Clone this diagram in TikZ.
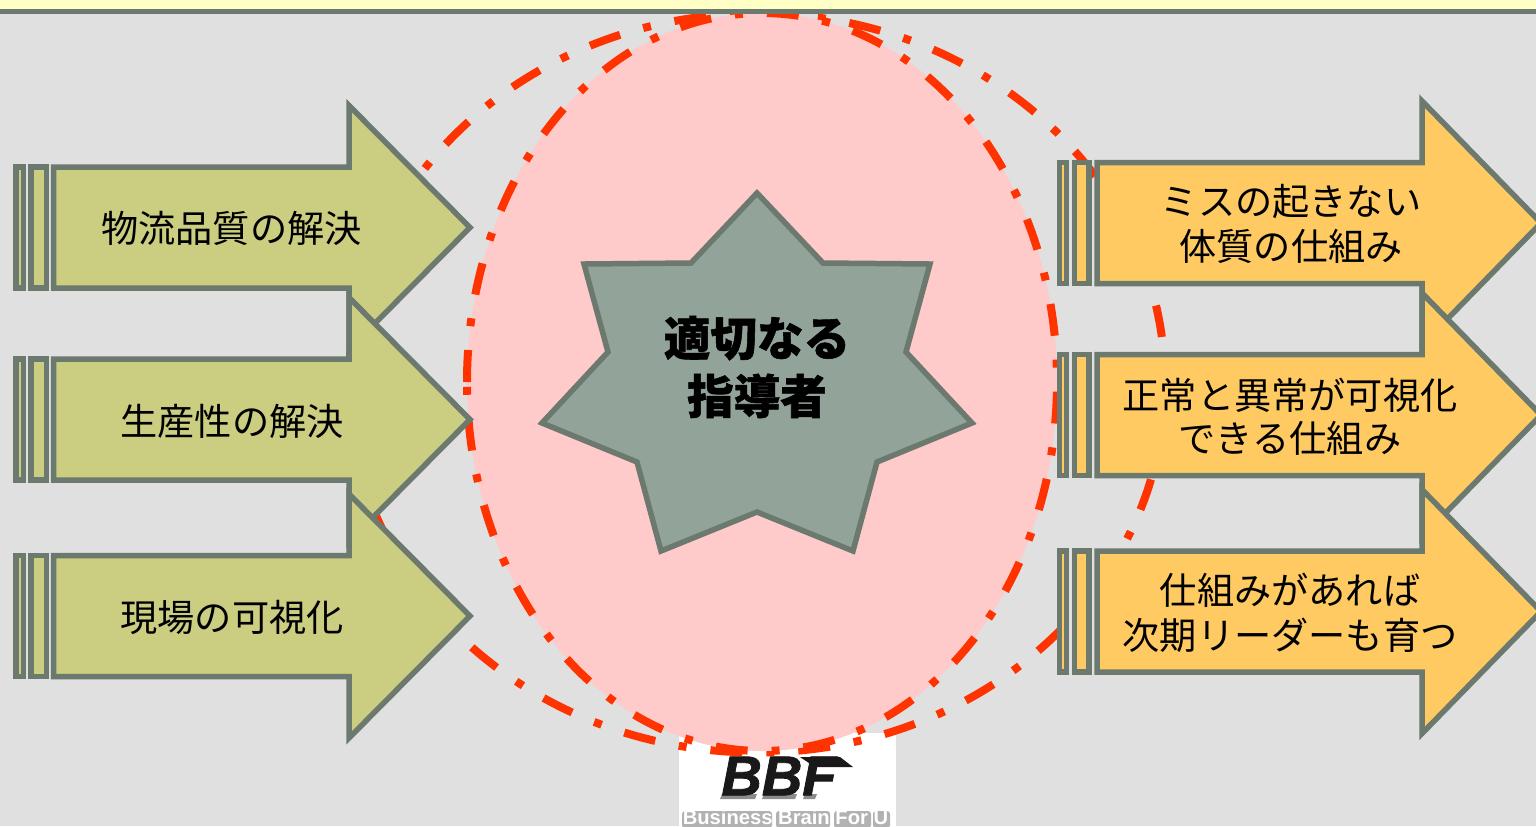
\documentclass[tikz,border=0pt]{standalone}
\usepackage{fontspec}
\setmainfont{Noto Sans CJK JP}
\newfontfamily\cjkheavy{Noto Sans CJK JP}[BoldFeatures={FakeBold=1.2}]
\newfontfamily\logofont{Liberation Sans}[BoldItalicFeatures={FakeBold=1.5}]
\definecolor{bggray}{HTML}{E0E0E0}
\definecolor{bandyellow}{HTML}{FFFFC6}
\definecolor{edgegray}{HTML}{6C796F}
\definecolor{olivefill}{HTML}{CBCD80}
\definecolor{orangefill}{HTML}{FFCA62}
\definecolor{pinkfill}{HTML}{FFCACA}
\definecolor{redline}{HTML}{FF3300}
\definecolor{starfill}{HTML}{92A399}
\tikzset{
  arrowedge/.style={draw=edgegray,line width=2.75pt,miter limit=10,line join=miter},
  ringline/.style={draw=redline,line width=4pt,dash pattern=on 16pt off 12pt on 4pt off 12pt},
  arrowtext/.style={font=\fontsize{18.6}{22.4}\selectfont,align=center,text=black,inner sep=0pt},
  bbftext/.style={inner sep=0pt,font=\logofont\bfseries\itshape\fontsize{28}{28}\selectfont},
  logoglow/.style={fill=gray!60,rounded corners=1.5pt},
}
% #1 name, #2 stripe-1 left, #3 stripe-1 right, #4 stripe-2 left, #5 stripe-2 right,
% #6 body left, #7 stem end, #8 tip x, #9 centre y
\newcommand\stripedarrow[9]{%
  \path[arrowedge,fill=\arrowfill] (#2,#9-60.5) rectangle (#3,#9+60.5);
  \path[arrowedge,fill=\arrowfill] (#4,#9-60.5) rectangle (#5,#9+60.5);
  \path[arrowedge,fill=\arrowfill] (#6,#9-60.5) -- (#7,#9-60.5) -- (#7,#9-122) -- (#8,#9)
     -- (#7,#9+122) -- (#7,#9+60.5) -- (#6,#9+60.5) -- cycle;
  \coordinate (#1) at (#6,#9);
}
\begin{document}
\begin{tikzpicture}[x=0.5pt,y=-0.5pt]
\useasboundingbox (0,0) rectangle (1536,826);
\begin{scope}
\clip (0,0) rectangle (1536,826);
\fill[bggray] (0,0) rectangle (1536,826);
% logo
\fill[white] (679,733) rectangle (896,826);
\fill[gray!90] (722,794) -- (757,794) -- (755,799) -- (720,799) -- cycle;
\fill[gray!90] (764,794) -- (797,794) -- (795,799) -- (762,799) -- cycle;
\fill[gray!90] (805,794) -- (817,794) -- (815,799) -- (803,799) -- cycle;
\node[bbftext,text=black!90] (bbf) at (779,776) {BBF};
\fill[black!90] (800,757) -- (840,757) -- (853,767) -- (815,767) -- cycle;
\fill[logoglow] (682,811) rectangle (772,828);
\fill[logoglow] (776,811) rectangle (830,828);
\fill[logoglow] (834,811) rectangle (871,828);
\fill[logoglow] (873,811) rectangle (890,828);
\node[inner sep=0pt,text=white,font=\logofont\bfseries\fontsize{10.1}{11}\selectfont] (tag) at (785.5,817.5) {Business Brain For U};
% rings: each starts at its left point and runs clockwise on the page
\coordinate (outerstart) at (349,383);
\coordinate (innerstart) at (467,382);
\draw[ringline] (outerstart) arc[start angle=180,end angle=540,x radius=408,y radius=369.5];
\path[fill=pinkfill] (762,382) ellipse [x radius=295,y radius=369];
\draw[ringline] (innerstart) arc[start angle=180,end angle=540,x radius=295,y radius=369];
% top band
\fill[bandyellow] (0,0) rectangle (1536,9);
\fill[edgegray] (0,8.5) rectangle (1536,13.5);
% left arrows
\def\arrowfill{olivefill}
\stripedarrow{la}{16}{23.3}{31}{46.3}{53.5}{349}{470}{227.5}
\stripedarrow{lb}{16}{23.3}{31}{46.3}{53.5}{349}{470}{419.5}
\stripedarrow{lc}{16}{23.3}{31}{46.3}{53.5}{349}{470}{616}
\node[arrowtext] (lat) at (231.5,228.5) {物流品質の解決};
\node[arrowtext] (lbt) at (232,421) {生産性の解決};
\node[arrowtext] (lct) at (232,617.5) {現場の可視化};
% right arrows
\def\arrowfill{orangefill}
\stripedarrow{ra}{1059.5}{1066.5}{1074.5}{1089}{1097}{1422}{1541}{223}
\stripedarrow{rb}{1059.5}{1066.5}{1074.5}{1089}{1097}{1422}{1541}{415}
\stripedarrow{rc}{1059.5}{1066.5}{1074.5}{1089}{1097}{1422}{1541}{611.5}
\node[arrowtext] (rat) at (1291,224) {ミスの起きない\\体質の仕組み};
\node[arrowtext] (rbt) at (1290,417) {正常と異常が可視化\\[-1pt]できる仕組み};
\node[arrowtext] (rct) at (1290,613) {仕組みがあれば\\次期リーダーも育つ};
% star
\path[arrowedge,fill=starfill] (757,193) -- (823,263) -- (930,264) -- (906,352) -- (972,423)
  -- (877,462) -- (853,551) -- (757,512) -- (661,551) -- (637,462) -- (542,423) -- (608,352)
  -- (584,264) -- (691,263) -- cycle;
\node[inner sep=0pt,align=center,font=\cjkheavy\bfseries\fontsize{23.3}{29}\selectfont] (startext) at (757,367) {適切なる\\指導者};
\end{scope}
\end{tikzpicture}
\end{document}
